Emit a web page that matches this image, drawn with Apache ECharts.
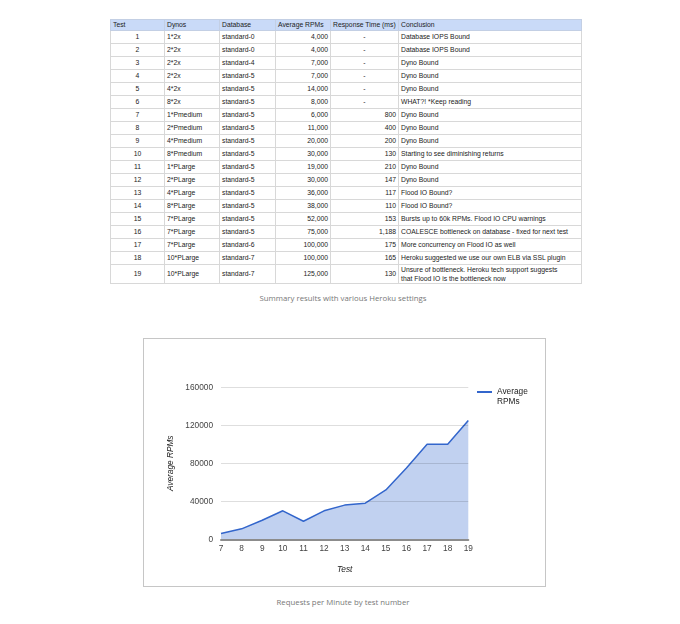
<!DOCTYPE html>
<html><head><meta charset="utf-8">
<script src="https://cdn.jsdelivr.net/npm/echarts@6/dist/echarts.min.js"></script>
<style>
html,body{margin:0;padding:0;background:#fff;width:680px;height:624px;overflow:hidden;}
#tbl{position:absolute;left:110px;top:19px;width:471px;border-collapse:collapse;table-layout:fixed;font-family:"Liberation Sans",Arial,sans-serif;font-size:6.8px;color:#222;}
#tbl td,#tbl th{border:1px solid #d8d8d8;padding:0 2px;white-space:nowrap;overflow:hidden;font-weight:normal;vertical-align:middle;line-height:8px;}
#tbl tr{height:13px;}
#tbl tr.hd{height:11px;}
#tbl tr.hd th{background:#c9daf8;text-align:left;border-color:#c3cfe4;}
#tbl tr.tall{height:19px;}
#tbl td.c{text-align:center;}
#tbl td.r{text-align:right;}
#tbl td.wrap{white-space:normal;line-height:9px;}
#tbl td.wrap div{width:166px;}
.cap{position:absolute;left:93px;width:500px;text-align:center;font-family:"Open Sans",sans-serif;font-size:7.8px;color:#777;line-height:10px;}
#chart{position:absolute;left:143px;top:338px;width:401px;height:247px;border:1px solid #c6c6c6;}
</style>
</head><body>
<table id="tbl"><colgroup><col style="width:54px"><col style="width:55px"><col style="width:56px"><col style="width:55px"><col style="width:68px"><col style="width:183px"></colgroup><tbody id="tb"></tbody></table>
<div class="cap" style="top:293px">Summary results with various Heroku settings</div>
<div id="chart"></div>
<div class="cap" style="top:597px">Requests per Minute by test number</div>
<script>
const headers = ["Test","Dynos","Database","Average RPMs","Response Time (ms)","Conclusion"];
const tests = [1,2,3,4,5,6,7,8,9,10,11,12,13,14,15,16,17,18,19];
const dynos = ["1*2x","2*2x","2*2x","2*2x","4*2x","8*2x","1*Pmedium","2*Pmedium","4*Pmedium","8*Pmedium","1*PLarge","2*PLarge","4*PLarge","8*PLarge","7*PLarge","7*PLarge","7*PLarge","10*PLarge","10*PLarge"];
const databases = ["standard-0","standard-0","standard-4","standard-5","standard-5","standard-5","standard-5","standard-5","standard-5","standard-5","standard-5","standard-5","standard-5","standard-5","standard-5","standard-5","standard-6","standard-7","standard-7"];
const avgRpms = [4000,4000,7000,7000,14000,8000,6000,11000,20000,30000,19000,30000,36000,38000,52000,75000,100000,100000,125000];
const responseTimes = [null,null,null,null,null,null,800,400,200,130,210,147,117,110,153,1188,175,165,130];
const conclusions = ["Database IOPS Bound","Database IOPS Bound","Dyno Bound","Dyno Bound","Dyno Bound","WHAT?! *Keep reading","Dyno Bound","Dyno Bound","Dyno Bound","Starting to see diminishing returns","Dyno Bound","Dyno Bound","Flood IO Bound?","Flood IO Bound?","Bursts up to 60k RPMs. Flood IO CPU warnings","COALESCE bottleneck on database - fixed for next test","More concurrency on Flood IO as well","Heroku suggested we use our own ELB via SSL plugin","Unsure of bottleneck. Heroku tech support suggests that Flood IO is the bottleneck now"];

const chartTests = ["7","8","9","10","11","12","13","14","15","16","17","18","19"];
const chartRpms = [6000,11000,20000,30000,19000,30000,36000,38000,52000,75000,100000,100000,125000];

const fmt = n => n.toLocaleString('en-US');
const tb = document.getElementById('tb');
let h = '<tr class="hd">' + headers.map(x => '<th>' + x + '</th>').join('') + '</tr>';
for (let i = 0; i < tests.length; i++) {
  const tall = conclusions[i].length > 60;
  h += '<tr' + (tall ? ' class="tall"' : '') + '>' +
    '<td class="c">' + tests[i] + '</td>' +
    '<td>' + dynos[i] + '</td>' +
    '<td>' + databases[i] + '</td>' +
    '<td class="r">' + fmt(avgRpms[i]) + '</td>' +
    (responseTimes[i] == null ? '<td class="c">-</td>' : '<td class="r">' + fmt(responseTimes[i]) + '</td>') +
    (tall ? '<td class="wrap"><div>' + conclusions[i] + '</div></td>' : '<td>' + conclusions[i] + '</td>') + '</tr>';
}
tb.innerHTML = h;

const chart = echarts.init(document.getElementById('chart'), null, {renderer: 'canvas'});
const font = '"Liberation Sans", Arial, sans-serif';
chart.setOption({
  animation: false,
  textStyle: {fontFamily: font},
  grid: {left: 77, top: 48.3, width: 247.3, height: 152, containLabel: false},
  legend: {
    left: 333, top: 38, padding: 0,
    icon: 'rect', itemWidth: 15, itemHeight: 2, itemGap: 4,
    formatter: () => ' \nAverage\nRPMs',
    textStyle: {fontSize: 8.3, color: '#222', fontFamily: font, lineHeight: 10},
    data: ['Average RPMs']
  },
  xAxis: {
    type: 'category', data: chartTests, boundaryGap: false, z: 3,
    name: 'Test', nameLocation: 'middle', nameGap: 26,
    nameTextStyle: {fontStyle: 'italic', fontSize: 8.3, color: '#222', fontFamily: font},
    axisLine: {lineStyle: {color: '#8c8c8c', width: 2}},
    axisTick: {show: false},
    axisLabel: {fontSize: 8.3, color: '#444', margin: 5, interval: 0, fontFamily: font}
  },
  yAxis: {
    type: 'value', min: 0, max: 160000, interval: 40000, z: 3,
    name: 'Average RPMs', nameLocation: 'middle', nameGap: 44,
    nameTextStyle: {fontStyle: 'italic', fontSize: 8.3, color: '#222', fontFamily: font},
    axisLine: {show: false}, axisTick: {show: false},
    axisLabel: {fontSize: 8.3, color: '#444', margin: 8, fontFamily: font,
      formatter: v => String(v)},
    splitLine: {lineStyle: {color: 'rgba(0,0,0,0.13)', width: 1}}
  },
  series: [{
    name: 'Average RPMs', type: 'line', data: chartRpms,
    symbol: 'none', z: 2,
    itemStyle: {color: '#3366cc'},
    lineStyle: {color: '#3366cc', width: 1.5},
    areaStyle: {color: '#3366cc', opacity: 0.3}
  }]
});
</script>
</body></html>
